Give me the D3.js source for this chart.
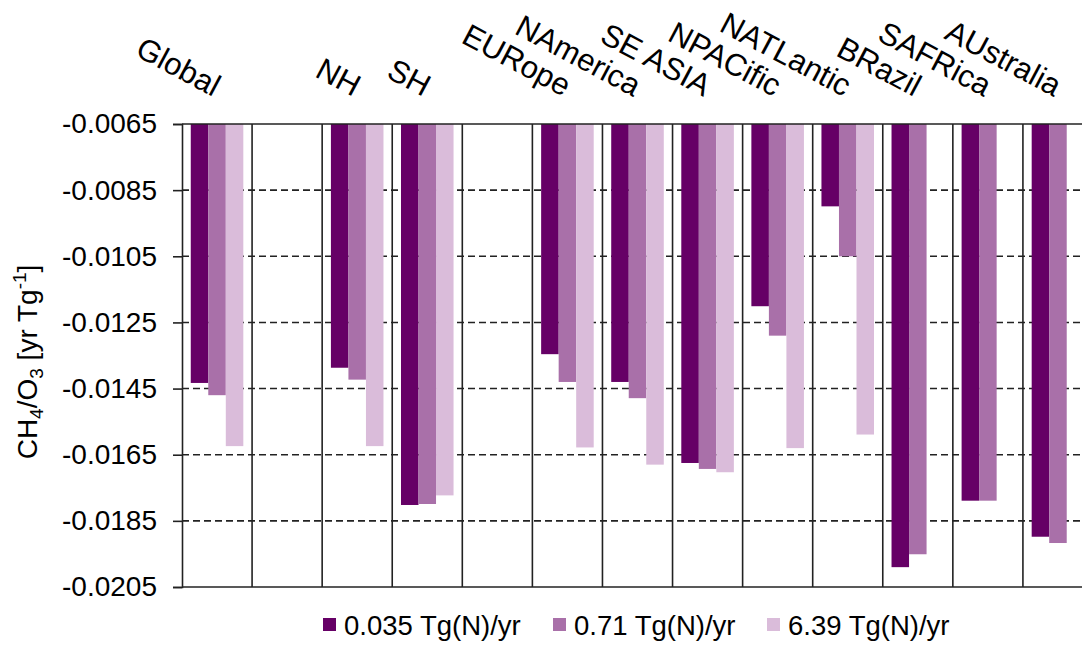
<!DOCTYPE html>
<html>
<head>
<meta charset="utf-8">
<script src="https://cdn.jsdelivr.net/npm/d3@7"></script>
<style>
  body { margin: 0; background: #fff; }
  svg { font-family: "Liberation Sans", Arial, sans-serif; }
</style>
</head>
<body>
<div id="chart"></div>
<script>
const categories = ["Global", "", "NH", "SH", "", "EURope", "NAmerica", "SE ASIA", "NPACific", "NATLantic", "BRazil", "SAFRica", "AUstralia"];
const seriesNames = ["0.035 Tg(N)/yr", "0.71 Tg(N)/yr", "6.39 Tg(N)/yr"];
const seriesColors = ["#660066", "#a970a9", "#dabcda"];

const lowValues  = [-0.01433, null, -0.01387, -0.01802, null, -0.01346, -0.01430, -0.01675, -0.01201, -0.00899, -0.01990, -0.01789, -0.01898];
const midValues  = [-0.01470, null, -0.01423, -0.01799, null, -0.01430, -0.01479, -0.01693, -0.01290, -0.01050, -0.01951, -0.01789, -0.01917];
const highValues = [-0.01624, null, -0.01624, -0.01773, null, -0.01628, -0.01680, -0.01703, -0.01630, -0.01589, null, null, null];

const yTicks = [-0.0065, -0.0085, -0.0105, -0.0125, -0.0145, -0.0165, -0.0185, -0.0205];

const seriesValues = [lowValues, midValues, highValues];

const W = 1082, H = 646;
const plot = { left: 182, right: 1093, top: 124, bottom: 587 };

const svg = d3.select("#chart")
    .append("svg")
    .attr("width", W)
    .attr("height", H);

const x = d3.scaleBand()
    .domain(d3.range(categories.length))
    .range([plot.left, plot.right])
    .padding(0);

const xSub = d3.scaleBand()
    .domain(d3.range(seriesNames.length))
    .range([0, x.bandwidth()])
    .paddingInner(0)
    .paddingOuter(0.5);

const y = d3.scaleLinear()
    .domain([-0.0065, -0.0205])
    .range([plot.top, plot.bottom]);

// dashed horizontal grid
svg.append("g")
    .selectAll("line")
    .data(yTicks.slice(1, -1))
    .enter()
    .append("line")
    .attr("x1", plot.left)
    .attr("x2", plot.right)
    .attr("y1", d => y(d))
    .attr("y2", d => y(d))
    .attr("stroke", "#222")
    .attr("stroke-width", 1.6)
    .attr("stroke-dasharray", "7,4");

// bars
categories.forEach((cat, i) => {
    seriesValues.forEach((vals, s) => {
        const v = vals[i];
        if (v === null) return;
        svg.append("rect")
            .attr("x", x(i) + xSub(s))
            .attr("width", xSub.bandwidth())
            .attr("y", y(-0.0065))
            .attr("height", y(v) - y(-0.0065))
            .attr("fill", seriesColors[s]);
    });
});

// vertical separators between groups
svg.append("g")
    .selectAll("line")
    .data(d3.range(1, categories.length))
    .enter()
    .append("line")
    .attr("x1", d => x(d))
    .attr("x2", d => x(d))
    .attr("y1", plot.top)
    .attr("y2", plot.bottom)
    .attr("stroke", "#222")
    .attr("stroke-width", 1.6);

// top and bottom frame lines
[plot.top, plot.bottom].forEach(py => {
    svg.append("line")
        .attr("x1", plot.left)
        .attr("x2", plot.right)
        .attr("y1", py)
        .attr("y2", py)
        .attr("stroke", "#222")
        .attr("stroke-width", 1.6);
});

// y axis (hyphen minus like the original)
const fmt = d3.format(".4f");
const yAxis = svg.append("g")
    .attr("transform", `translate(${plot.left},0)`)
    .call(d3.axisLeft(y)
        .tickValues(yTicks)
        .tickFormat(d => fmt(d).replace("\u2212", "-"))
        .tickSize(9)
        .tickPadding(16));

yAxis.select(".domain").attr("stroke", "#222").attr("stroke-width", 1.6);
yAxis.selectAll(".tick line").attr("stroke", "#222").attr("stroke-width", 1.6);
yAxis.selectAll(".tick text")
    .attr("font-size", "28px")
    .attr("fill", "#000")
    .style("font-family", "'Liberation Sans', Arial, sans-serif");

// category labels, rotated
svg.append("g")
    .selectAll("text")
    .data(categories)
    .enter()
    .append("text")
    .attr("transform", (d, i) => `translate(${x(i) + x.bandwidth() / 2 - 4},97) rotate(28)`)
    .attr("text-anchor", "end")
    .attr("font-size", "31px")
    .text(d => d);

// y axis title
const yTitle = svg.append("text")
    .attr("transform", "translate(37,362) rotate(-90)")
    .attr("text-anchor", "middle")
    .attr("font-size", "28px");
yTitle.append("tspan").text("CH");
yTitle.append("tspan").attr("font-size", "19px").attr("dy", "6").text("4");
yTitle.append("tspan").attr("dy", "-6").text("/O");
yTitle.append("tspan").attr("font-size", "19px").attr("dy", "6").text("3");
yTitle.append("tspan").attr("dy", "-6").text(" [yr Tg");
yTitle.append("tspan").attr("font-size", "19px").attr("dy", "-11").text("-1");
yTitle.append("tspan").attr("dy", "11").text("]");

// legend
const legendX = [323, 553, 767];
const legend = svg.append("g");
seriesNames.forEach((name, s) => {
    legend.append("rect")
        .attr("x", legendX[s])
        .attr("y", 618)
        .attr("width", 13)
        .attr("height", 13)
        .attr("fill", seriesColors[s]);
    legend.append("text")
        .attr("x", legendX[s] + 21)
        .attr("y", 635)
        .attr("font-size", "27.5px")
        .text(name);
});
</script>
</body>
</html>
